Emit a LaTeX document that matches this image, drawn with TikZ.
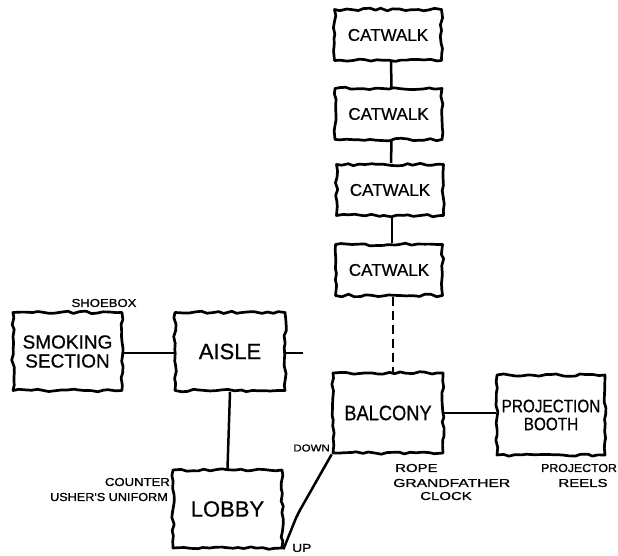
\documentclass[tikz,border=0pt]{standalone}
\usepackage{fontspec}
\setmainfont{Liberation Sans}[FakeBold=0.6]
\newfontfamily\handlbl{Liberation Sans}[FakeBold=0.9]
\newcommand\hwide[2]{\scalebox{#1}[1]{#2}}
\usetikzlibrary{decorations.pathmorphing}
\begin{document}
\begin{tikzpicture}[x=1pt,y=-1pt,
  room/.style={draw, line width=2.7pt, line join=round,
    decorate, decoration={random steps,segment length=6pt,amplitude=1.3pt},
    align=center, inner sep=0pt, font=\fontsize{22}{23}\selectfont},
  cat/.style={room, minimum width=107pt, minimum height=51pt, font=\fontsize{17}{18}\selectfont},
  big/.style={room, minimum width=109pt, minimum height=78pt},
  link/.style={line width=2.5pt, line join=round},
  dlink/.style={line width=2.5pt, dash pattern=on 9pt off 5pt},
  lbl/.style={inner sep=0pt, font=\handlbl\fontsize{11.5}{12}\selectfont}
]
\pgfmathsetseed{7}
\fill[white] (0,0) rectangle (618,556);
\useasboundingbox (0,0) rectangle (618,556);

% catwalks
\node[cat] (cw1) at (388,35) {CATWALK};
\node[cat] (cw2) at (388.5,114) {CATWALK};
\node[cat] (cw3) at (390,190) {CATWALK};
\node[cat] (cw4) at (389,270) {CATWALK};

% main rooms
\node[big, minimum width=110pt, minimum height=80pt, font=\fontsize{21}{22}\selectfont] (balcony) at (388,413) {\hwide{0.87}{BALCONY}};
\node[big, minimum width=108pt, minimum height=80pt, font=\fontsize{18}{18}\selectfont] (booth) at (551,415) {\hwide{0.85}{PROJECTION}\\\hwide{0.85}{BOOTH}};
\node[big, font=\fontsize{19}{19}\selectfont] (smoking) at (67.5,351.5) {SMOKING\\SECTION};
\node[big, minimum width=110pt] (aisle) at (230,351.5) {AISLE};
\node[big] (lobby) at (227.5,509) {LOBBY};

% connectors
\draw[link] ([xshift=3pt]cw1.south) -- ([xshift=3pt]cw2.north);
\draw[link] ([xshift=3pt]cw2.south) -- ([xshift=1pt]cw3.north);
\draw[link] ([xshift=2pt]cw3.south) -- ([xshift=3pt]cw4.north);
\draw[dlink] ([xshift=4pt]cw4.south) -- ([xshift=5pt]balcony.north);
\draw[link] ([yshift=-1.5pt]smoking.east) -- ([yshift=-1.5pt]aisle.west);
\coordinate (stub) at (303,353);
\draw[link] (aisle.east |- stub) -- (stub);
\draw[link] (aisle.south) -- (lobby.north);
\draw[link] (balcony.east) -- (balcony.east -| booth.west);
\coordinate (bend1) at (296,518);
\coordinate (bend2) at (300,510);
\draw[link] (lobby.south east) -- (bend1) -- (bend2) -- (balcony.south west);

% labels
\node[lbl] (shoebox) at (104,303) {\hwide{1.14}{SHOEBOX}};
\node[lbl, anchor=east] (counter) at (170,482) {\hwide{1.14}{COUNTER}};
\node[lbl, anchor=east] (usher) at (168,497) {\hwide{1.1}{USHER'S UNIFORM}};
\node[lbl, anchor=east, font=\handlbl\fontsize{10}{11}\selectfont] (down) at (330,448) {\hwide{1.15}{DOWN}};
\node[lbl, anchor=west] (up) at (292,548) {\hwide{1.2}{UP}};
\node[lbl, anchor=west] (rope) at (395,468) {\hwide{1.3}{ROPE}};
\node[lbl, anchor=west] (grand) at (393,483) {\hwide{1.36}{GRANDFATHER}};
\node[lbl] (clock) at (446,496) {\hwide{1.3}{CLOCK}};
\node[lbl, anchor=west] (projector) at (541,468) {\hwide{1.07}{PROJECTOR}};
\node[lbl] (reels) at (583,483) {\hwide{1.3}{REELS}};
\end{tikzpicture}
\end{document}
